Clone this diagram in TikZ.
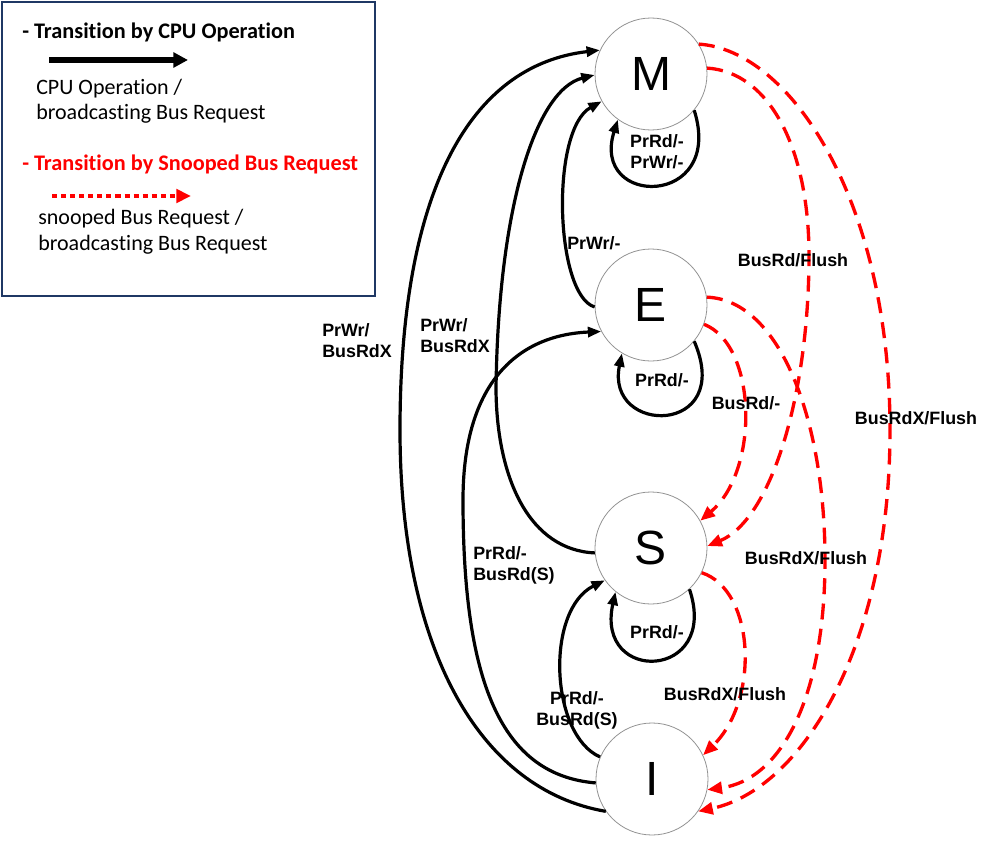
\documentclass[tikz,border=0pt]{standalone}
\usepackage{fontspec}
\setmainfont{Liberation Sans}
\newfontfamily\legfont[Ligatures=NoCommon]{Carlito}
\usetikzlibrary{arrows.meta}
\definecolor{navy}{HTML}{1F3864}
\definecolor{snoopred}{RGB}{255,0,0}
\begin{document}
\begin{tikzpicture}[x=0.75pt,y=-0.75pt,
  state/.style={circle,draw=gray!85,line width=0.6pt,minimum size=84pt,inner sep=0pt,font=\fontsize{36}{40}\selectfont},
  cpu/.style={line width=2.4pt,-{Triangle[length=10pt,width=7.5pt]}},
  snoop/.style={line width=2.5pt,draw=snoopred,dash pattern=on 12pt off 7pt,-{Triangle[length=11pt,width=9pt,fill=snoopred]}},
  lbl/.style={font=\bfseries\fontsize{13.4}{16}\selectfont,inner sep=0pt},
  legtext/.style={font=\legfont\fontsize{16.5}{19}\selectfont,inner sep=0pt,anchor=base west},
  legtitle/.style={font=\legfont\bfseries\fontsize{16.7}{19}\selectfont,inner sep=0pt,anchor=base west},
]
\useasboundingbox (0,0) rectangle (986,842);

% ---------- legend ----------
\draw[navy,line width=1.6pt] (2,2) rectangle (375,296);
\node[legtitle] (t1) at (22,39) {- Transition by CPU Operation};
\coordinate (la1) at (49,60);
\coordinate (la2) at (188,60);
\draw[line width=3.8pt,-{Triangle[length=11pt,width=11pt]}] (la1) -- (la2);
\node[legtext] (t2) at (36,95) {CPU Operation /};
\node[legtext] (t3) at (36,120) {broadcasting Bus Request};
\node[legtitle,text=snoopred] (t4) at (22,171) {- Transition by Snooped Bus Request};
\coordinate (lb1) at (52,196);
\coordinate (lb2) at (191,196);
\draw[snoopred,line width=3.6pt,dash pattern=on 3.8pt off 3pt,-{Triangle[length=11pt,width=10pt,fill=snoopred]}] (lb1) -- (lb2);
\node[legtext] (t5) at (38,224) {snooped Bus Request /};
\node[legtext] (t6) at (38,250) {broadcasting Bus Request};

% ---------- states ----------
\node[state] (M) at (651,74) {M};
\node[state] (E) at (651,305) {E};
\node[state] (S) at (651,548) {S};
\node[state] (I) at (652,779) {I};

% ---------- CPU transitions ----------
\draw[cpu] (I.215) .. controls (480,790) and (400,650) .. (400,430)
                   .. controls (400,190) and (470,65) .. (M.155);
\draw[cpu] (S.185) .. controls (530,550) and (497,480) .. (496,390)
                   .. controls (498,210) and (535,90) .. (M.181);
\draw[cpu] (E.182) .. controls (555,295) and (550,130) .. (M.209);
\draw[cpu] (I.184) .. controls (500,775) and (463,680) .. (463,500)
                   .. controls (463,380) and (520,335) .. (E.208);
\draw[cpu] (I.157) .. controls (550,735) and (545,610) .. (S.215);
% self loops
\draw[cpu] (M.320) .. controls (725,208) and (590,208) .. (M.234);
\draw[cpu] (E.320) .. controls (735,436) and (605,436) .. (E.239);
\draw[cpu] (S.313) .. controls (720,680) and (595,685) .. (S.231);

% ---------- snooped transitions ----------
\draw[snoop] (M.32) .. controls (790,50) and (890,200) .. (890,430)
                    .. controls (890,650) and (800,790) .. (I.325);
\draw[snoop] (M.6) .. controls (770,72) and (810,150) .. (809,260)
                   .. controls (808,400) and (770,520) .. (S.2);
\draw[snoop] (E.-20) .. controls (757,345) and (760,470) .. (S.29);
\draw[snoop] (E.8) .. controls (780,300) and (825,420) .. (825,560)
                   .. controls (825,700) and (780,780) .. (I.349);
\draw[snoop] (S.334) .. controls (755,590) and (760,700) .. (I.25);

% ---------- labels ----------
\node[lbl,anchor=north west,align=left] (lA) at (322,323) {PrWr/\\BusRdX};
\node[lbl,anchor=north west,align=left] (lB) at (420,318) {PrWr/\\BusRdX};
\node[lbl,anchor=base west] (lC) at (567,249) {PrWr/-};
\node[lbl,anchor=north,align=center] (lD) at (657,134) {PrRd/-\\PrWr/-};
\node[lbl,anchor=base] (lE) at (662,386) {PrRd/-};
\node[lbl,anchor=base] (lF) at (657,638) {PrRd/-};
\node[lbl,anchor=north west,align=left] (lG) at (473,546) {PrRd/-\\BusRd(S)};
\node[lbl,anchor=north,align=center] (lH) at (577,691) {PrRd/-\\BusRd(S)};
\node[lbl,anchor=base] (lI) at (793,266) {BusRd/Flush};
\node[lbl,anchor=base] (lJ) at (746,409) {BusRd/-};
\node[lbl,anchor=base] (lK) at (916,424) {BusRdX/Flush};
\node[lbl,anchor=base] (lL) at (806,564) {BusRdX/Flush};
\node[lbl,anchor=base] (lM) at (725,700) {BusRdX/Flush};
\end{tikzpicture}
\end{document}
